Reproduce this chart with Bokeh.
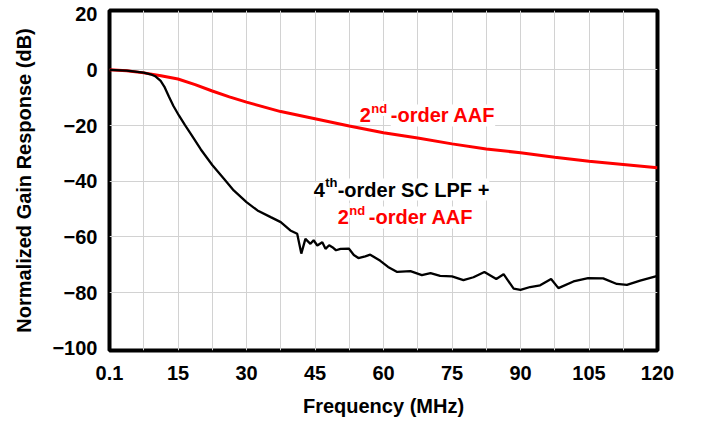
from bokeh.plotting import figure
from bokeh.models import FixedTicker, Label, Range1d
from bokeh.embed import file_html
from bokeh.resources import INLINE

# ---- data ----
aaf_freq = [0, 3.75, 7.5, 11.25, 15, 18.75, 22.5, 26.25, 30, 37.5, 45, 52.5,
            60, 67.5, 75, 82.5, 90, 97.5, 105, 112.5, 120]
aaf_gain = [0, -0.3, -1.1, -2.1, -3.3, -5.3, -7.6, -9.7, -11.6, -15.0, -17.6, -20.2,
            -22.6, -24.5, -26.6, -28.4, -29.8, -31.4, -32.8, -34.0, -35.2]

lpf_freq = [0, 3.75, 7.5, 9, 10, 11.2, 12, 13, 14, 15.2, 16.5, 17.8, 20, 22.5, 25.1,
            27.2, 30, 32.4, 35.3, 37.5, 39.6, 41.1, 42, 42.9, 44, 44.7, 45.5, 46.6,
            47.3, 48.1, 48.8, 49.6, 50.6, 52.4, 53.5, 54.5, 56, 57.1, 59.3, 61, 63,
            65.9, 68.4, 70.3, 72.4, 75, 77.5, 79.7, 82.1, 84.7, 86.3, 88.5, 90, 92.1,
            94.3, 96.7, 98.3, 101.6, 104.8, 108.1, 111.1, 113.3, 116.2, 120]
lpf_gain = [0, -0.3, -1.0, -1.6, -2.3, -4.0, -6.0, -9.6, -13.0, -16.4, -19.8, -23.0,
            -28.6, -34.2, -39.2, -43.3, -47.5, -50.5, -52.9, -54.7, -57.7, -58.9,
            -66.0, -60.7, -62.5, -61.2, -63.1, -61.9, -64.3, -63.0, -63.7, -64.8,
            -64.3, -64.2, -66.5, -67.6, -67.0, -66.4, -68.6, -70.8, -72.6, -72.3,
            -73.7, -73.0, -74.0, -74.2, -75.5, -74.5, -72.6, -75.1, -73.4, -78.6,
            -79.0, -78.0, -77.4, -75.1, -78.4, -76.0, -74.8, -74.9, -76.9, -77.2,
            -75.7, -74.0]

x_ticks = [0, 15, 30, 45, 60, 75, 90, 105, 120]
x_tick_labels = ["0.1", "15", "30", "45", "60", "75", "90", "105", "120"]
y_ticks = [-100, -80, -60, -40, -20, 0, 20]
y_tick_labels = ["\u2212100", "\u221280", "\u221260", "\u221240", "\u221220", "0", "20"]
x_grid = [7.5 * i for i in range(1, 16)]
y_grid = [-80, -60, -40, -20, 0]

FONT = "Liberation Sans"

p = figure(width=695, height=420, output_backend="svg", toolbar_location=None,
           x_range=Range1d(0, 120), y_range=Range1d(-100.8, 21.3),
           min_border_left=109, min_border_right=38, min_border_top=10,
           min_border_bottom=70)

p.background_fill_color = "white"
p.border_fill_color = "white"
p.outline_line_color = "black"
p.outline_line_width = 4

p.xgrid.ticker = FixedTicker(ticks=x_grid)
p.ygrid.ticker = FixedTicker(ticks=y_grid)
for g in (p.xgrid, p.ygrid):
    g.grid_line_color = "#d2d2d2"
    g.grid_line_width = 1

p.xaxis.ticker = FixedTicker(ticks=x_ticks)
p.xaxis.major_label_overrides = dict(zip(x_ticks, x_tick_labels))
p.yaxis.ticker = FixedTicker(ticks=y_ticks)
p.yaxis.major_label_overrides = dict(zip(y_ticks, y_tick_labels))

p.xaxis.axis_label = "Frequency (MHz)"
p.yaxis.axis_label = "Normalized Gain Response (dB)"
for ax in (p.xaxis, p.yaxis):
    ax.axis_line_color = None
    ax.major_tick_line_color = None
    ax.minor_tick_line_color = None
    ax.major_tick_out = 0
    ax.major_tick_in = 0
    ax.major_label_text_font = FONT
    ax.major_label_text_font_style = "bold"
    ax.major_label_text_font_size = "20px"
    ax.major_label_text_color = "black"
    ax.axis_label_text_font = FONT
    ax.axis_label_text_font_style = "bold"
    ax.axis_label_text_font_size = "20px"
    ax.axis_label_text_color = "black"
p.xaxis.major_label_standoff = 15
p.yaxis.major_label_standoff = 12
p.xaxis.axis_label_standoff = 12
p.yaxis.axis_label_standoff = 14

p.line(aaf_freq, aaf_gain, line_color="#ff0000", line_width=3)
p.line(lpf_freq, lpf_gain, line_color="black", line_width=2.3)


def add_sup_label(x, y, base, sup, rest, color, sup_dx, rest_dx):
    common = dict(x=x, y=y, text_font=FONT, text_font_style="bold",
                  text_color=color, text_baseline="alphabetic",
                  background_fill_color="white")
    p.add_layout(Label(text=base, text_font_size="20px", **common))
    p.add_layout(Label(text=sup, text_font_size="13px", x_offset=sup_dx,
                       y_offset=7, **common))
    p.add_layout(Label(text=rest, text_font_size="20px", x_offset=rest_dx, **common))


add_sup_label(54.8, -16.4, "2", "nd", "-order AAF", "#ff0000", 11.5, 31)
add_sup_label(44.7, -43.0, "4", "th", "-order SC LPF +", "black", 11.5, 24)
add_sup_label(50.0, -53.0, "2", "nd", "-order AAF", "#ff0000", 11.5, 31)

open("out.html", "w").write(file_html(p, INLINE))
